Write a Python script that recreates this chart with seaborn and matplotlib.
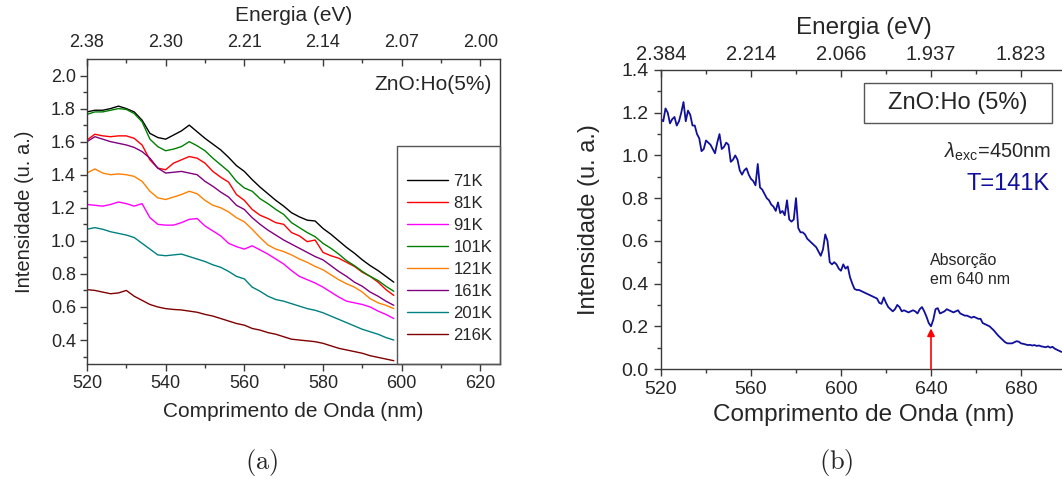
import numpy as np
import pandas as pd
import matplotlib
matplotlib.use("Agg")
import matplotlib.pyplot as plt
from matplotlib.patches import Rectangle
import seaborn as sns

# ---------------- data: panel (a) ----------------
wl_a = list(range(520, 600, 2))
temps_a = ["71K", "81K", "91K", "101K", "121K", "161K", "201K", "216K"]
colors_a = ["#000000", "#ff0000", "#ff00ff", "#008000", "#ff8000", "#800080", "#008080", "#800000"]

i_71K = [1.78, 1.79, 1.79, 1.80, 1.815, 1.80, 1.78, 1.73, 1.65, 1.625,
         1.615, 1.64, 1.665, 1.70, 1.66, 1.62, 1.585, 1.55, 1.505, 1.455,
         1.42, 1.37, 1.325, 1.285, 1.245, 1.21, 1.17, 1.145, 1.125, 1.12,
         1.075, 1.04, 1.00, 0.96, 0.925, 0.885, 0.85, 0.82, 0.785, 0.75]
i_81K = [1.61, 1.645, 1.635, 1.63, 1.635, 1.635, 1.62, 1.58, 1.49, 1.44,
         1.43, 1.47, 1.49, 1.51, 1.50, 1.47, 1.42, 1.385, 1.355, 1.28,
         1.245, 1.19, 1.155, 1.135, 1.11, 1.10, 1.05, 1.03, 0.995, 1.005,
         0.93, 0.91, 0.895, 0.87, 0.845, 0.81, 0.785, 0.75, 0.705, 0.67]
i_91K = [1.22, 1.215, 1.21, 1.22, 1.235, 1.225, 1.21, 1.225, 1.14, 1.10,
         1.095, 1.095, 1.11, 1.13, 1.135, 1.09, 1.06, 1.03, 0.985, 0.965,
         0.95, 0.97, 0.945, 0.92, 0.89, 0.86, 0.82, 0.785, 0.765, 0.745,
         0.72, 0.69, 0.66, 0.635, 0.625, 0.615, 0.60, 0.575, 0.555, 0.53]
i_101K = [1.765, 1.78, 1.78, 1.79, 1.80, 1.795, 1.77, 1.72, 1.615, 1.57,
          1.545, 1.555, 1.57, 1.60, 1.575, 1.545, 1.50, 1.46, 1.42, 1.36,
          1.32, 1.30, 1.255, 1.225, 1.19, 1.16, 1.11, 1.08, 1.05, 1.025,
          0.985, 0.955, 0.92, 0.88, 0.85, 0.815, 0.785, 0.76, 0.725, 0.695]
i_121K = [1.41, 1.435, 1.41, 1.40, 1.405, 1.40, 1.39, 1.36, 1.30, 1.26,
          1.25, 1.265, 1.28, 1.30, 1.285, 1.245, 1.215, 1.20, 1.175, 1.14,
          1.115, 1.07, 1.02, 0.975, 0.95, 0.935, 0.915, 0.89, 0.87, 0.845,
          0.825, 0.795, 0.765, 0.74, 0.72, 0.69, 0.65, 0.625, 0.61, 0.59]
i_161K = [1.60, 1.63, 1.615, 1.60, 1.59, 1.58, 1.565, 1.54, 1.50, 1.44,
          1.41, 1.415, 1.42, 1.41, 1.40, 1.36, 1.33, 1.295, 1.265, 1.215,
          1.19, 1.14, 1.10, 1.065, 1.035, 1.005, 0.98, 0.955, 0.93, 0.905,
          0.885, 0.85, 0.815, 0.785, 0.75, 0.725, 0.69, 0.665, 0.635, 0.61]
i_201K = [1.07, 1.08, 1.07, 1.055, 1.045, 1.035, 1.02, 0.985, 0.95, 0.915,
          0.91, 0.915, 0.92, 0.905, 0.89, 0.875, 0.855, 0.84, 0.815, 0.785,
          0.77, 0.72, 0.695, 0.665, 0.645, 0.635, 0.62, 0.605, 0.59, 0.58,
          0.565, 0.545, 0.525, 0.505, 0.485, 0.465, 0.45, 0.435, 0.415, 0.40]
i_216K = [0.705, 0.70, 0.69, 0.68, 0.685, 0.70, 0.665, 0.64, 0.615, 0.60,
          0.59, 0.585, 0.582, 0.575, 0.568, 0.555, 0.545, 0.53, 0.515, 0.50,
          0.49, 0.47, 0.46, 0.445, 0.435, 0.42, 0.405, 0.40, 0.395, 0.39,
          0.38, 0.365, 0.35, 0.34, 0.33, 0.32, 0.305, 0.295, 0.285, 0.275]
series_a = [i_71K, i_81K, i_91K, i_101K, i_121K, i_161K, i_201K, i_216K]

xticks_a = [520, 540, 560, 580, 600, 620]
top_labels_a = ["2.38", "2.30", "2.21", "2.14", "2.07", "2.00"]

# ---------------- data: panel (b) ----------------
wl_b = list(range(520, 699))
i_141K = [
    1.17, 1.16, 1.22, 1.20, 1.15, 1.17, 1.18, 1.14, 1.16, 1.20,   # 520-529
    1.25, 1.16, 1.21, 1.19, 1.14, 1.14, 1.10, 1.08, 1.02, 1.03,   # 530-539
    1.07, 1.06, 1.05, 1.03, 1.01, 1.06, 1.10, 1.03, 1.04, 1.06,   # 540-549
    1.05, 0.97, 0.98, 1.00, 0.98, 0.93, 0.91, 0.93, 0.94, 0.91,   # 550-559
    0.89, 0.88, 0.86, 0.96, 0.85, 0.84, 0.82, 0.80, 0.79, 0.77,   # 560-569
    0.76, 0.74, 0.78, 0.73, 0.74, 0.72, 0.79, 0.70, 0.69, 0.70,   # 570-579
    0.80, 0.66, 0.64, 0.64, 0.63, 0.61, 0.60, 0.59, 0.58, 0.57,   # 580-589
    0.55, 0.53, 0.56, 0.63, 0.60, 0.50, 0.49, 0.50, 0.49, 0.47,   # 590-599
    0.46, 0.49, 0.47, 0.48, 0.43, 0.40, 0.375, 0.37, 0.37, 0.365, # 600-609
    0.36, 0.355, 0.35, 0.345, 0.34, 0.335, 0.33, 0.31, 0.305, 0.335,  # 610-619
    0.31, 0.29, 0.28, 0.27, 0.28, 0.30, 0.29, 0.27, 0.275, 0.27,  # 620-629
    0.265, 0.27, 0.275, 0.27, 0.26, 0.28, 0.29, 0.27, 0.245, 0.215,  # 630-639
    0.20, 0.23, 0.28, 0.285, 0.26, 0.265, 0.27, 0.28, 0.275, 0.27,   # 640-649
    0.265, 0.27, 0.275, 0.26, 0.255, 0.25, 0.25, 0.245, 0.24, 0.245, # 650-659
    0.24, 0.235, 0.235, 0.215, 0.21, 0.205, 0.20, 0.19, 0.18, 0.167, # 660-669
    0.155, 0.145, 0.135, 0.125, 0.12, 0.12, 0.12, 0.125, 0.13, 0.128, # 670-679
    0.12, 0.118, 0.115, 0.112, 0.113, 0.11, 0.112, 0.108, 0.11, 0.106, # 680-689
    0.104, 0.102, 0.106, 0.10, 0.104, 0.095, 0.09, 0.085, 0.08        # 690-698
]
xticks_b = [520, 560, 600, 640, 680]
top_labels_b = ["2.384", "2.214", "2.066", "1.937", "1.823"]

# ---------------- styling ----------------
sns.set_style("ticks")
plt.rcParams["font.family"] = ["Liberation Sans", "DejaVu Sans"]
plt.rcParams["mathtext.fontset"] = "custom"
plt.rcParams["mathtext.rm"] = "Liberation Sans"
plt.rcParams["mathtext.it"] = "Liberation Sans:italic"
plt.rcParams["mathtext.cal"] = "cmr10"

W, H = 1062, 479
fig = plt.figure(figsize=(W / 100, H / 100), dpi=100)

spine_c = "#3a3a3a"


def frac(x0, x1, ytop, ybot):
    return [x0 / W, 1 - ybot / H, (x1 - x0) / W, (ybot - ytop) / H]


def style_axes(ax, tsize, major_x, minor_x, major_y, minor_y, pad):
    for s in ax.spines.values():
        s.set_color(spine_c)
        s.set_linewidth(1.0)
    ax.set_xticks(major_x)
    ax.set_xticks(minor_x, minor=True)
    ax.set_yticks(major_y)
    ax.set_yticks(minor_y, minor=True)
    ax.tick_params(which="major", direction="out", length=5, width=1.0,
                   color=spine_c, labelsize=tsize, pad=pad)
    ax.tick_params(which="minor", direction="out", length=3, width=1.0,
                   color=spine_c)
    ax.grid(False)


# ---------------- panel (a) ----------------
axa = fig.add_axes(frac(87, 500, 59, 364))
df_a = pd.concat([pd.DataFrame({"wl": wl_a, "I": s, "T": t})
                  for s, t in zip(series_a, temps_a)], ignore_index=True)
sns.lineplot(data=df_a, x="wl", y="I", hue="T", hue_order=temps_a,
             palette=colors_a, estimator=None, linewidth=1.0, ax=axa)
axa.set_xlim(520, 625)
axa.set_ylim(0.255, 2.10)
style_axes(axa, 13, xticks_a, [530, 550, 570, 590, 610],
           [0.4, 0.6, 0.8, 1.0, 1.2, 1.4, 1.6, 1.8, 2.0],
           [0.3, 0.5, 0.7, 0.9, 1.1, 1.3, 1.5, 1.7, 1.9], pad=3)
axa.set_xlabel("Comprimento de Onda (nm)", fontsize=15, labelpad=7)
axa.set_ylabel("Intensidade (u. a.)", fontsize=14.5, labelpad=12)

handles, labels = axa.get_legend_handles_labels()
leg = axa.legend(handles, labels, loc="upper left",
                 bbox_to_anchor=((400 - 87) / 413, (364 - 167) / 305),
                 frameon=False, fontsize=12, handlelength=2.5,
                 handletextpad=0.3, labelspacing=0.42, borderaxespad=0)
axa.add_patch(Rectangle(((397 - 87) / 413, 0), 1 - (397 - 87) / 413,
                        (364 - 146) / 305, transform=axa.transAxes,
                        fill=False, edgecolor="#555555", linewidth=1.0,
                        zorder=5, clip_on=False))
axa.text(492 / W, 1 - 85 / H, "ZnO:Ho(5%)", transform=fig.transFigure,
         ha="right", va="center", fontsize=15)

taxa = axa.twiny()
taxa.set_xlim(axa.get_xlim())
taxa.set_xticks(xticks_a)
taxa.set_xticklabels(top_labels_a)
taxa.set_xticks([530, 550, 570, 590, 610], minor=True)
taxa.tick_params(which="major", direction="in", length=5, width=1.0,
                 color=spine_c, labelsize=13, pad=6)
taxa.tick_params(which="minor", direction="in", length=3, width=1.0,
                 color=spine_c)
taxa.set_xlabel("Energia (eV)", fontsize=15, labelpad=9)
for s in taxa.spines.values():
    s.set_visible(False)

# ---------------- panel (b) ----------------
axb = fig.add_axes(frac(661, 1066, 70, 369))
df_b = pd.DataFrame({"wl": wl_b, "I": i_141K})
sns.lineplot(data=df_b, x="wl", y="I", color="#10109c", linewidth=1.3,
             estimator=None, ax=axb)
axb.set_xlim(520, 700)
axb.set_ylim(0, 1.4)
style_axes(axb, 14, xticks_b, [540, 580, 620, 660, 700],
           [0.0, 0.2, 0.4, 0.6, 0.8, 1.0, 1.2, 1.4],
           [0.1, 0.3, 0.5, 0.7, 0.9, 1.1, 1.3], pad=4)
axb.set_xlabel("Comprimento de Onda (nm)", fontsize=17.5, labelpad=4)
axb.set_ylabel("Intensidade (u. a.)", fontsize=17, labelpad=15)

taxb = axb.twiny()
taxb.set_xlim(axb.get_xlim())
taxb.set_xticks(xticks_b)
taxb.set_xticklabels(top_labels_b)
taxb.set_xticks([540, 580, 620, 660, 700], minor=True)
taxb.tick_params(which="major", direction="in", length=5, width=1.0,
                 color=spine_c, labelsize=14.5, pad=4)
taxb.tick_params(which="minor", direction="in", length=3, width=1.0,
                 color=spine_c)
taxb.set_xlabel("Energia (eV)", fontsize=17.5, labelpad=8)
for s in taxb.spines.values():
    s.set_visible(False)

fig.patches.append(Rectangle((864 / W, 1 - 123 / H), (1052 - 864) / W,
                             40 / H, transform=fig.transFigure, fill=False,
                             edgecolor="#555555", linewidth=1.0))
fig.text(958 / W, 1 - 103 / H, "ZnO:Ho (5%)", ha="center", va="center",
         fontsize=17)
fig.text(1051 / W, 1 - 152 / H, r"$\lambda_{\mathrm{exc}}$=450nm",
         ha="right", va="center", fontsize=14.5)
fig.text(1050 / W, 1 - 184 / H, "T=141K", ha="right", va="center",
         fontsize=17, color="#10109c")
fig.text(930 / W, 1 - 270 / H, "Absorção\nem 640 nm", ha="left",
         va="center", fontsize=11.5, linespacing=1.35)
axb.annotate("", xy=(640, 0.19), xytext=(640, 0.0),
             arrowprops=dict(arrowstyle="-|>", color="red", lw=1.2,
                             mutation_scale=11, shrinkA=0, shrinkB=0))

# ---------------- captions ----------------
fig.text(262 / W, 1 - 462 / H, r"$\mathcal{(a)}$", ha="center",
         va="center", fontsize=19)
fig.text(836 / W, 1 - 462 / H, r"$\mathcal{(b)}$", ha="center",
         va="center", fontsize=19)

fig.savefig("out.png", dpi=100)
